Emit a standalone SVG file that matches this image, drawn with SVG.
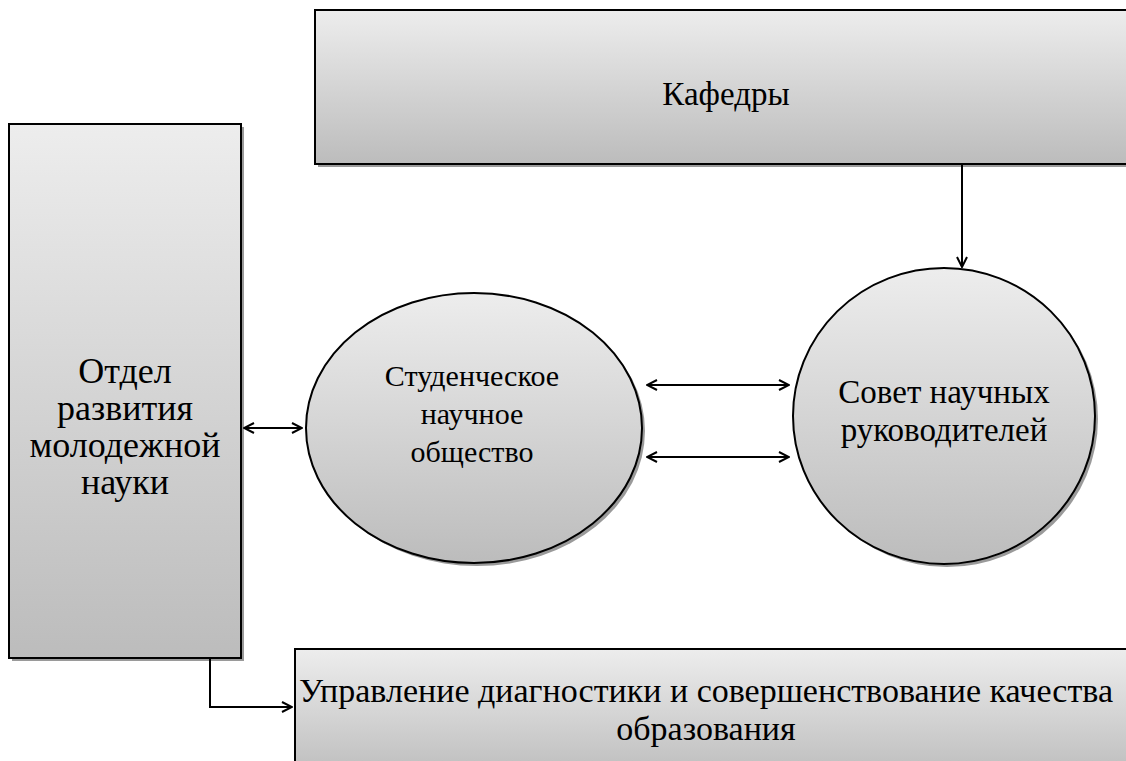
<svg xmlns="http://www.w3.org/2000/svg" width="1126" height="761" viewBox="0 0 1126 761">
<style>
.t{font-family:"Liberation Serif","Times New Roman",serif;font-size:33px;fill:#000;text-anchor:middle}
.box{stroke:#000;stroke-width:2}
.sh{fill:#9a9a9a}
.c{fill:none;stroke:#000;stroke-width:2}
</style>
<defs>
<linearGradient id="g" x1="0" y1="0" x2="0" y2="1">
<stop offset="0" stop-color="#ededed"/>
<stop offset="1" stop-color="#bcbcbc"/>
</linearGradient>
<marker id="a" viewBox="0 0 12 12" refX="11" refY="6" markerWidth="12" markerHeight="12" markerUnits="userSpaceOnUse" orient="auto-start-reverse">
<path d="M1,1 L11,6 L1,11" fill="none" stroke="#000" stroke-width="2"/>
</marker>
</defs>
<rect width="1126" height="761" fill="#fff"/>
<g id="kafedry">
<rect class="sh" x="318" y="13" width="820" height="154"/>
<rect class="box" x="315" y="10" width="820" height="154" fill="url(#g)" stroke-width="2.5"/>
<text class="t" x="726" y="105">Кафедры</text>
</g>
<g id="otdel">
<rect class="sh" x="12" y="127" width="232" height="534"/>
<rect class="box" x="9" y="124" width="232" height="534" fill="url(#g)"/>
<text class="t" x="125" y="383" style="font-size:36px">Отдел</text>
<text class="t" x="125" y="420" style="font-size:36px">развития</text>
<text class="t" x="125" y="457" style="font-size:36px">молодежной</text>
<text class="t" x="125" y="494" style="font-size:36px">науки</text>
</g>
<g id="sno">
<ellipse class="sh" cx="477" cy="431" rx="168" ry="135"/>
<ellipse class="box" cx="474" cy="428" rx="168" ry="135" fill="url(#g)"/>
<text class="t" x="472" y="386" style="font-size:30px">Студенческое</text>
<text class="t" x="472" y="424" style="font-size:30px">научное</text>
<text class="t" x="472" y="462" style="font-size:30px">общество</text>
</g>
<g id="sovet">
<ellipse class="sh" cx="947" cy="419" rx="151" ry="148"/>
<ellipse class="box" cx="944" cy="416" rx="151" ry="148" fill="url(#g)"/>
<text class="t" x="944" y="403">Совет научных</text>
<text class="t" x="944" y="441">руководителей</text>
</g>
<g id="upravlenie">
<rect class="sh" x="298" y="652" width="840" height="130"/>
<rect class="box" x="295" y="649" width="840" height="130" fill="url(#g)"/>
<text class="t" x="706" y="702" style="font-size:34px">Управление диагностики и совершенствование качества</text>
<text class="t" x="706" y="740" style="font-size:34px">образования</text>
</g>
<g id="connectors">
<line class="c" x1="962" y1="164" x2="962" y2="267" marker-end="url(#a)"/>
<line class="c" x1="244" y1="428" x2="302" y2="428" marker-start="url(#a)" marker-end="url(#a)"/>
<line class="c" x1="647" y1="385" x2="789" y2="385" marker-start="url(#a)" marker-end="url(#a)"/>
<line class="c" x1="647" y1="457" x2="789" y2="457" marker-start="url(#a)" marker-end="url(#a)"/>
<polyline class="c" points="125,658 210,658 210,707 292,707" marker-end="url(#a)"/>
</g>
</svg>
